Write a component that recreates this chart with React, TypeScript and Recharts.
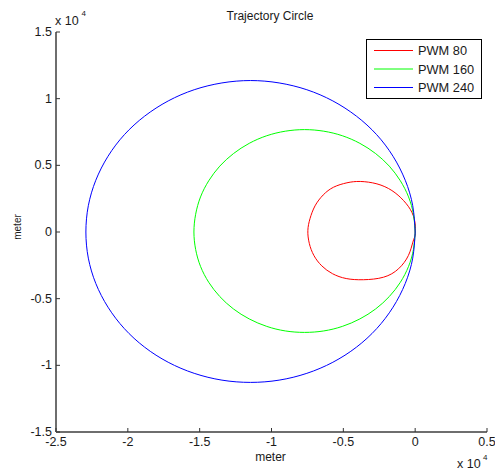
import React from 'react';
import { ScatterChart, Scatter, XAxis, YAxis, Legend, Customized } from 'recharts';

const xTicks = [-2.5, -2, -1.5, -1, -0.5, 0, 0.5];
const yTicks = [-1.5, -1, -0.5, 0, 0.5, 1, 1.5];

const seriesNames = ['PWM 80', 'PWM 160', 'PWM 240'];
const seriesColors = ['#ff0000', '#00ff00', '#0000ff'];

const titleText = 'Trajectory Circle';
const xLabelText = 'meter';
const yLabelText = 'meter';

// values in units of 10^4 meters
const pwm80 = [
  { x: 0, y: 0 }, { x: 0, y: 0.061 }, { x: -0.023, y: 0.148 }, { x: -0.081, y: 0.236 },
  { x: -0.162, y: 0.311 }, { x: -0.266, y: 0.361 }, { x: -0.382, y: 0.379 }, { x: -0.475, y: 0.369 },
  { x: -0.568, y: 0.336 }, { x: -0.64, y: 0.278 }, { x: -0.697, y: 0.196 }, { x: -0.732, y: 0.1 },
  { x: -0.747, y: 0.01 }, { x: -0.737, y: -0.085 }, { x: -0.705, y: -0.176 }, { x: -0.65, y: -0.254 },
  { x: -0.575, y: -0.313 }, { x: -0.48, y: -0.349 }, { x: -0.36, y: -0.358 }, { x: -0.22, y: -0.339 },
  { x: -0.116, y: -0.276 }, { x: -0.047, y: -0.176 }, { x: -0.016, y: -0.076 }, { x: 0, y: -0.026 },
  { x: 0, y: 0 },
];

const pwm160 = [
  { x: 0, y: 0 }, { x: -0.012, y: 0.133 }, { x: -0.046, y: 0.263 }, { x: -0.103, y: 0.384 },
  { x: -0.18, y: 0.494 }, { x: -0.275, y: 0.588 }, { x: -0.385, y: 0.665 }, { x: -0.507, y: 0.722 },
  { x: -0.636, y: 0.756 }, { x: -0.77, y: 0.768 }, { x: -0.904, y: 0.756 }, { x: -1.033, y: 0.722 },
  { x: -1.155, y: 0.665 }, { x: -1.265, y: 0.588 }, { x: -1.36, y: 0.494 }, { x: -1.437, y: 0.384 },
  { x: -1.494, y: 0.263 }, { x: -1.528, y: 0.133 }, { x: -1.54, y: 0 }, { x: -1.528, y: -0.131 },
  { x: -1.494, y: -0.258 }, { x: -1.437, y: -0.377 }, { x: -1.36, y: -0.484 }, { x: -1.265, y: -0.577 },
  { x: -1.155, y: -0.652 }, { x: -1.033, y: -0.708 }, { x: -0.904, y: -0.742 }, { x: -0.77, y: -0.753 },
  { x: -0.636, y: -0.742 }, { x: -0.507, y: -0.708 }, { x: -0.385, y: -0.652 }, { x: -0.275, y: -0.577 },
  { x: -0.18, y: -0.484 }, { x: -0.103, y: -0.377 }, { x: -0.046, y: -0.258 }, { x: -0.012, y: -0.131 },
  { x: 0, y: 0 },
];

const pwm240 = [
  { x: 0, y: 0 }, { x: -0.017, y: 0.197 }, { x: -0.069, y: 0.388 }, { x: -0.154, y: 0.568 },
  { x: -0.268, y: 0.73 }, { x: -0.409, y: 0.869 }, { x: -0.573, y: 0.983 }, { x: -0.754, y: 1.067 },
  { x: -0.947, y: 1.118 }, { x: -1.146, y: 1.136 }, { x: -1.345, y: 1.118 }, { x: -1.538, y: 1.067 },
  { x: -1.719, y: 0.983 }, { x: -1.883, y: 0.869 }, { x: -2.024, y: 0.73 }, { x: -2.138, y: 0.568 },
  { x: -2.223, y: 0.388 }, { x: -2.275, y: 0.197 }, { x: -2.292, y: 0 }, { x: -2.275, y: -0.196 },
  { x: -2.223, y: -0.386 }, { x: -2.138, y: -0.564 }, { x: -2.024, y: -0.725 }, { x: -1.883, y: -0.864 },
  { x: -1.719, y: -0.977 }, { x: -1.538, y: -1.06 }, { x: -1.345, y: -1.111 }, { x: -1.146, y: -1.128 },
  { x: -0.947, y: -1.111 }, { x: -0.754, y: -1.06 }, { x: -0.573, y: -0.977 }, { x: -0.409, y: -0.864 },
  { x: -0.268, y: -0.725 }, { x: -0.154, y: -0.564 }, { x: -0.069, y: -0.386 }, { x: -0.017, y: -0.196 },
  { x: 0, y: 0 },
];

const seriesData = [pwm80, pwm160, pwm240];

const FONT = '"Liberation Sans", Arial, sans-serif';
const AXIS_COLOR = '#6e6e6e';

const fmt = (v: number) => String(v);

const XTick = (props: any) => {
  const { x, y, payload } = props;
  return (
    <g>
      <line x1={x} y1={y} x2={x} y2={y - 4} stroke="#333" strokeWidth={1} />
      <text x={x} y={y + 14} textAnchor="middle" fontSize={12.5} fontFamily={FONT} fill="#1a1a1a">
        {fmt(payload.value)}
      </text>
    </g>
  );
};

const YTick = (props: any) => {
  const { x, y, payload } = props;
  return (
    <g>
      <line x1={x} y1={y} x2={x + 4} y2={y} stroke="#333" strokeWidth={1} />
      <text x={x - 4} y={y + 4} textAnchor="end" fontSize={12.5} fontFamily={FONT} fill="#1a1a1a">
        {fmt(payload.value)}
      </text>
    </g>
  );
};

const LegendBox = () => (
  <svg width={116} height={60} style={{ display: 'block' }}>
    <rect x={0.5} y={0.5} width={115} height={59} fill="#fff" stroke="#000" strokeWidth={1} />
    {seriesNames.map((n, i) => (
      <g key={n}>
        <line x1={8} x2={47} y1={11.5 + i * 18.5} y2={11.5 + i * 18.5} stroke={seriesColors[i]} strokeWidth={1} />
        <text x={52} y={16 + i * 18.5} fontSize={12.8} fontFamily={FONT} fill="#1a1a1a">{n}</text>
      </g>
    ))}
  </svg>
);

const Texts = () => (
  <g fontFamily={FONT} fill="#1a1a1a">
    <text x={270} y={20} textAnchor="middle" fontSize={12}>{titleText}</text>
    <text x={270.5} y={461} textAnchor="middle" fontSize={12}>{xLabelText}</text>
    <text x={20.5} y={227} textAnchor="middle" fontSize={10} transform="rotate(-90 20.5 227)">{yLabelText}</text>
    <text x={55} y={25} fontSize={12.5}>x 10</text>
    <text x={81.5} y={16} fontSize={8}>4</text>
    <text x={457} y={468} fontSize={12.5}>x 10</text>
    <text x={483} y={460} fontSize={8}>4</text>
  </g>
);

export default function App() {
  return (
    <div style={{ position: 'absolute', left: 0, top: 0, width: 495, height: 472, background: '#fff' }}>
      <ScatterChart width={495} height={472} margin={{ top: 32, right: 8, bottom: 0, left: 0 }}>
        <XAxis
          type="number"
          dataKey="x"
          domain={[-2.5, 0.5]}
          ticks={xTicks}
          allowDataOverflow
          height={40}
          tickSize={0}
          tickMargin={0}
          tickLine={false}
          axisLine={{ stroke: AXIS_COLOR, strokeWidth: 2 }}
          tick={<XTick />}
          interval={0}
        />
        <YAxis
          type="number"
          dataKey="y"
          domain={[-1.5, 1.5]}
          ticks={yTicks}
          allowDataOverflow
          width={56}
          tickSize={0}
          tickMargin={0}
          tickLine={false}
          axisLine={{ stroke: AXIS_COLOR, strokeWidth: 2 }}
          tick={<YTick />}
          interval={0}
        />
        {seriesData.map((d, i) => (
          <Scatter
            key={seriesNames[i]}
            name={seriesNames[i]}
            data={d}
            fill="none"
            line={{ stroke: seriesColors[i], strokeWidth: 1 }}
            lineType="joint"
            lineJointType="natural"
            shape={() => <g />}
            isAnimationActive={false}
          />
        ))}
        <Legend
          layout="vertical"
          align="center"
          verticalAlign="middle"
          content={() => <LegendBox />}
          wrapperStyle={{ position: 'absolute', left: 366, top: 39, width: 116, height: 60 }}
        />
        <Customized component={Texts} />
      </ScatterChart>
    </div>
  );
}
